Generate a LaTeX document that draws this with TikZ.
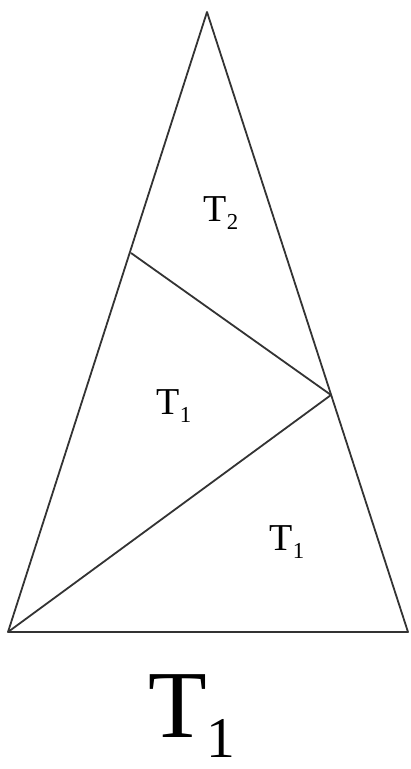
\documentclass[tikz,border=0pt]{standalone}
\usepackage{fontspec}
\setmainfont{Liberation Serif}
\usepackage{graphicx}
\usetikzlibrary{positioning, calc}

\newcommand{\tlab}[1]{T\raisebox{-0.2em}{\scalebox{0.6}{#1}}}
\tikzset{
  edge/.style={draw=black!80, line width=1.8pt, line join=round},
  lab/.style={inner sep=0pt, font=\fontsize{38}{38}\selectfont},
  biglab/.style={inner sep=0pt, font=\fontsize{96}{96}\selectfont}
}

\begin{document}
\begin{tikzpicture}[x=1pt, y=-1pt]
\useasboundingbox (0,0) rectangle (411,769);
\coordinate (apex) at (207,12);
\coordinate (bl) at (8,632);
\coordinate (br) at (408,632);
\coordinate (pl) at (131,253);
\coordinate (pr) at (331,395);

\draw[edge] (apex) -- (bl) -- (br) -- cycle;
\draw[edge] (pl) -- (pr);
\draw[edge] (bl) -- (pr);

\node[lab] (t2) at (221,213) {\tlab{2}};
\node[lab] (t1a) at (174,406) {\tlab{1}};
\node[lab] (t1b) at (287,542) {\tlab{1}};
\node[biglab] (t1big) at (192,716) {\tlab{1}};
\end{tikzpicture}
\end{document}
